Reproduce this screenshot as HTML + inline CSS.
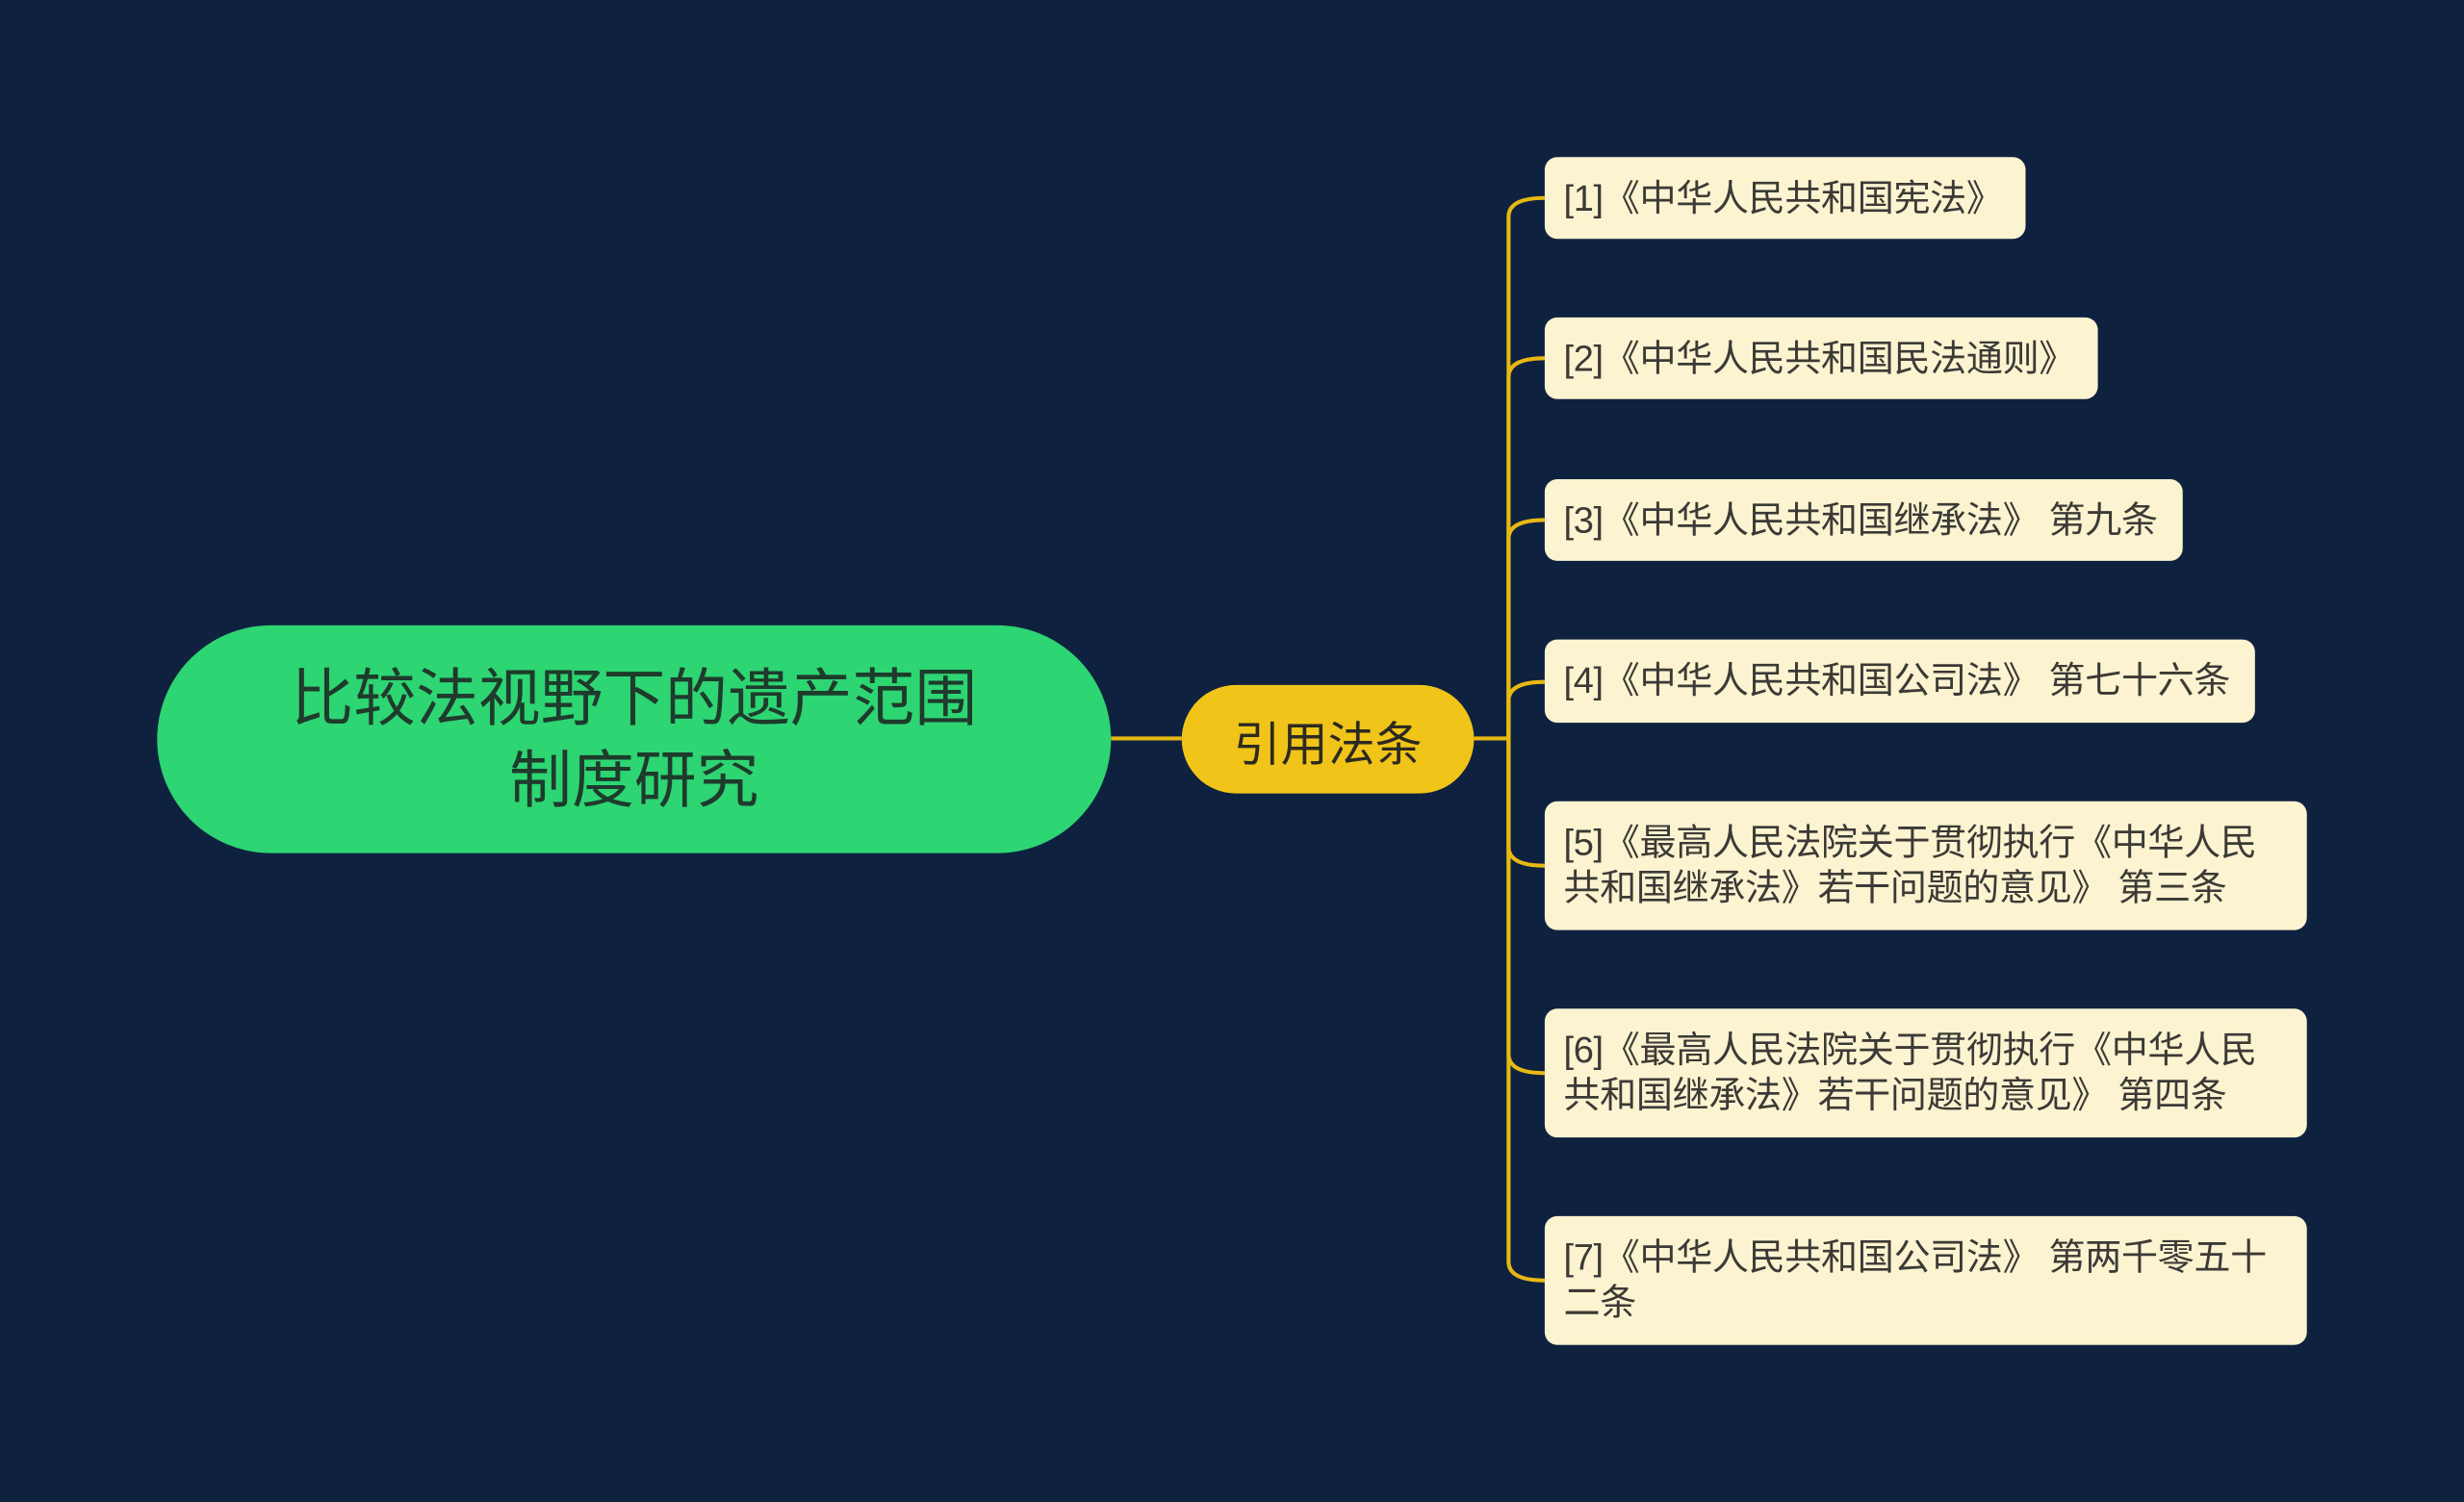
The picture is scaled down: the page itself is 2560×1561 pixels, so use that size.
<!DOCTYPE html>
<html><head><meta charset="utf-8"><style>
html,body{margin:0;padding:0;background:#0e223f;width:2560px;height:1561px;overflow:hidden}
#w{position:absolute;left:0;top:0;width:1568px;height:956px;transform:scale(1.63265,1.63285);transform-origin:0 0;font-family:"Liberation Sans","Noto Sans CJK SC",sans-serif}
.n{position:absolute;box-sizing:border-box;display:flex;align-items:center}
.leaf{background:#fcf3d0;border-radius:8px;color:#3b3a36;font-size:23.3px;line-height:29px;padding:0 0 0 12px;letter-spacing:-0.2px;white-space:nowrap}
</style></head><body><div id="w">
<svg width="1568" height="956" style="position:absolute;left:0;top:0" fill="none" stroke="#e7b912" stroke-width="2.5">
<path d="M707 470 L752 470"/><path d="M938 470 L960 470"/>
<path d="M960 470 L960 138 Q960 126 983 126"/>
<path d="M960 470 L960 240 Q960 228 983 228"/>
<path d="M960 470 L960 343 Q960 331 983 331"/>
<path d="M960 470 L960 446 Q960 434 983 434"/>
<path d="M960 470 L960 539 Q960 551 983 551"/>
<path d="M960 470 L960 671 Q960 683 983 683"/>
<path d="M960 470 L960 803 Q960 815 983 815"/>
</svg>
<div class="n" style="left:100px;top:398px;width:607px;height:145px;background:#2ed573;border-radius:73px;justify-content:center;text-align:center;color:#1e3b2c;font-size:39.7px;line-height:52px">比较法视野下的遗产范围<br>制度研究</div>
<div class="n" style="left:752px;top:436px;width:186px;height:69px;background:#f0c419;border-radius:35px;justify-content:center;color:#2c2a20;font-size:30px">引用法条</div>
<div class="n leaf" style="left:983px;top:100px;width:306px;height:52px">[1]《中华人民共和国宪法》</div>
<div class="n leaf" style="left:983px;top:202px;width:352px;height:52px">[2]《中华人民共和国民法通则》</div>
<div class="n leaf" style="left:983px;top:305px;width:406px;height:52px">[3]《中华人民共和国继承法》 第九条</div>
<div class="n leaf" style="left:983px;top:407px;width:452px;height:53px">[4]《中华人民共和国公司法》 第七十六条</div>
<div class="n leaf" style="left:983px;top:510px;width:485px;height:82px">[5]《最高人民法院关于贯彻执行《中华人民<br>共和国继承法》若干问题的意见》 第三条</div>
<div class="n leaf" style="left:983px;top:642px;width:485px;height:82px">[6]《最高人民法院关于贯彻执行《中华人民<br>共和国继承法》若干问题的意见》 第四条</div>
<div class="n leaf" style="left:983px;top:774px;width:485px;height:82px">[7]《中华人民共和国公司法》 第两千零五十<br>二条</div>
</div></body></html>
